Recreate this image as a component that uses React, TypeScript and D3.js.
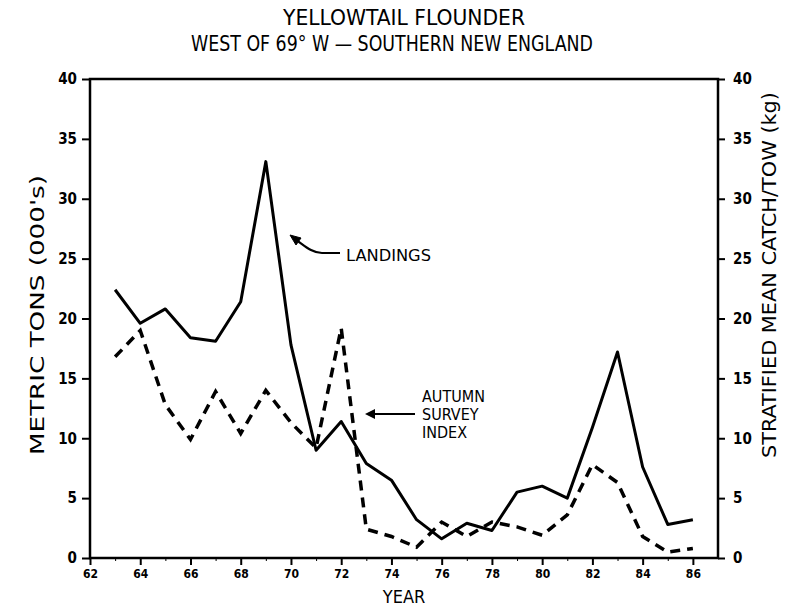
import React, { useEffect, useRef } from 'react';
import * as d3 from 'd3';

// values (years 1963-1986)
const years = [63, 64, 65, 66, 67, 68, 69, 70, 71, 72, 73, 74, 75, 76, 77, 78, 79, 80, 81, 82, 83, 84, 85, 86];
const landings = [22.4, 19.6, 20.8, 18.4, 18.1, 21.4, 33.1, 17.8, 9.0, 11.4, 7.9, 6.5, 3.2, 1.6, 2.9, 2.3, 5.5, 6.0, 5.0, 10.9, 17.2, 7.6, 2.8, 3.2];
const survey = [16.8, 19.0, 12.8, 9.9, 13.9, 10.4, 14.0, 11.3, 9.2, 19.2, 2.4, 1.8, 0.9, 3.0, 1.8, 3.0, 2.6, 1.9, 3.6, 7.8, 6.3, 1.8, 0.5, 0.8];
const yTicks = [0, 5, 10, 15, 20, 25, 30, 35, 40];
const xTicks = [62, 64, 66, 68, 70, 72, 74, 76, 78, 80, 82, 84, 86];

const FONT = "'Liberation Sans Narrow', 'DejaVu Sans Condensed', 'Arial Narrow', sans-serif";

const App = () => {
  const svgRef = useRef<SVGSVGElement>(null);

  useEffect(() => {
    const svg = d3.select(svgRef.current);
    svg.selectAll('*').remove();

    const left = 90, right = 718, top = 79, bottom = 558;

    const x = d3.scaleLinear().domain([62, 87]).range([left, right]);
    const y = d3.scaleLinear().domain([0, 40]).range([bottom, top]);

    const g = svg.append('g').attr('font-family', FONT);

    // title
    g.append('text')
      .attr('x', 404).attr('y', 25)
      .attr('text-anchor', 'middle')
      .attr('font-size', 21)
      .attr('textLength', 242).attr('lengthAdjust', 'spacingAndGlyphs')
      .text('YELLOWTAIL FLOUNDER');
    g.append('text')
      .attr('x', 392).attr('y', 51)
      .attr('text-anchor', 'middle')
      .attr('font-size', 21)
      .attr('textLength', 402).attr('lengthAdjust', 'spacingAndGlyphs')
      .text('WEST OF 69\u00B0 W \u2014 SOUTHERN NEW ENGLAND');

    // frame
    g.append('rect')
      .attr('x', left).attr('y', top)
      .attr('width', right - left).attr('height', bottom - top)
      .attr('fill', 'none').attr('stroke', '#000').attr('stroke-width', 2.5);

    // left axis
    const yl = g.append('g')
      .attr('transform', `translate(${left},0)`)
      .call(d3.axisLeft(y).tickValues(yTicks).tickSize(8).tickPadding(5));
    // right axis
    const yr = g.append('g')
      .attr('transform', `translate(${right},0)`)
      .call(d3.axisRight(y).tickValues(yTicks).tickSize(7).tickPadding(8));
    // bottom axis
    const xb = g.append('g')
      .attr('transform', `translate(0,${bottom})`)
      .call(d3.axisBottom(x).tickValues(xTicks).tickSize(7).tickPadding(4));
    g.append('g')
      .attr('transform', `translate(0,${bottom})`)
      .call(d3.axisBottom(x).tickValues(d3.range(63, 87, 2)).tickSize(3).tickFormat(() => ''))
      .call(a => a.select('.domain').remove());

    [yl, yr, xb].forEach(a => {
      a.select('.domain').remove();
      a.selectAll('line').attr('stroke', '#000').attr('stroke-width', 2);
      a.selectAll('text')
        .attr('font-family', FONT)
        .attr('font-weight', 'bold')
        .attr('fill', '#000');
    });
    yl.selectAll('text').attr('font-size', 15);
    yr.selectAll('text').attr('font-size', 15);
    xb.selectAll('text').attr('font-size', 12);

    // axis titles
    g.append('text')
      .attr('transform', `translate(44,315) rotate(-90)`)
      .attr('text-anchor', 'middle')
      .attr('font-size', 19)
      .attr('textLength', 280).attr('lengthAdjust', 'spacingAndGlyphs')
      .text("METRIC TONS (000's)");
    g.append('text')
      .attr('transform', `translate(776,275) rotate(-90)`)
      .attr('text-anchor', 'middle')
      .attr('font-size', 19)
      .attr('textLength', 366).attr('lengthAdjust', 'spacingAndGlyphs')
      .text('STRATIFIED MEAN CATCH/TOW (kg)');
    g.append('text')
      .attr('x', 404).attr('y', 603)
      .attr('text-anchor', 'middle')
      .attr('font-size', 18)
      .text('YEAR');

    // series
    const line = d3.line<number>()
      .x((_, i) => x(years[i]))
      .y(d => y(d));

    g.append('path')
      .datum(landings)
      .attr('fill', 'none')
      .attr('stroke', '#000')
      .attr('stroke-width', 3)
      .attr('stroke-linejoin', 'round')
      .attr('d', line);

    g.append('path')
      .datum(survey)
      .attr('fill', 'none')
      .attr('stroke', '#000')
      .attr('stroke-width', 3.5)
      .attr('stroke-dasharray', '10,7')
      .attr('d', line);

    // annotations
    g.append('path')
      .attr('d', 'M340,253 L322,253 C312,253 305,246 295,239')
      .attr('fill', 'none').attr('stroke', '#000').attr('stroke-width', 2.2);
    g.append('path')
      .attr('d', 'M290,235 L301,238 L296,245 Z')
      .attr('fill', '#000').attr('stroke', '#000').attr('stroke-width', 1);
    g.append('text')
      .attr('x', 346).attr('y', 261)
      .attr('font-size', 16)
      .attr('textLength', 85).attr('lengthAdjust', 'spacingAndGlyphs')
      .text('LANDINGS');

    g.append('path')
      .attr('d', 'M415,414 L372,414')
      .attr('fill', 'none').attr('stroke', '#000').attr('stroke-width', 2.2);
    g.append('path')
      .attr('d', 'M365,414 L375,409 L375,419 Z')
      .attr('fill', '#000');
    const notes = ['AUTUMN', 'SURVEY', 'INDEX'];
    notes.forEach((t, i) => {
      g.append('text')
        .attr('x', 422).attr('y', 402 + i * 18)
        .attr('font-size', 16)
        .text(t);
    });
  }, []);

  return (
    <svg ref={svgRef} width={786} height={606} style={{ position: 'absolute', left: 0, top: 0, background: '#fff' }} />
  );
};

export default App;
